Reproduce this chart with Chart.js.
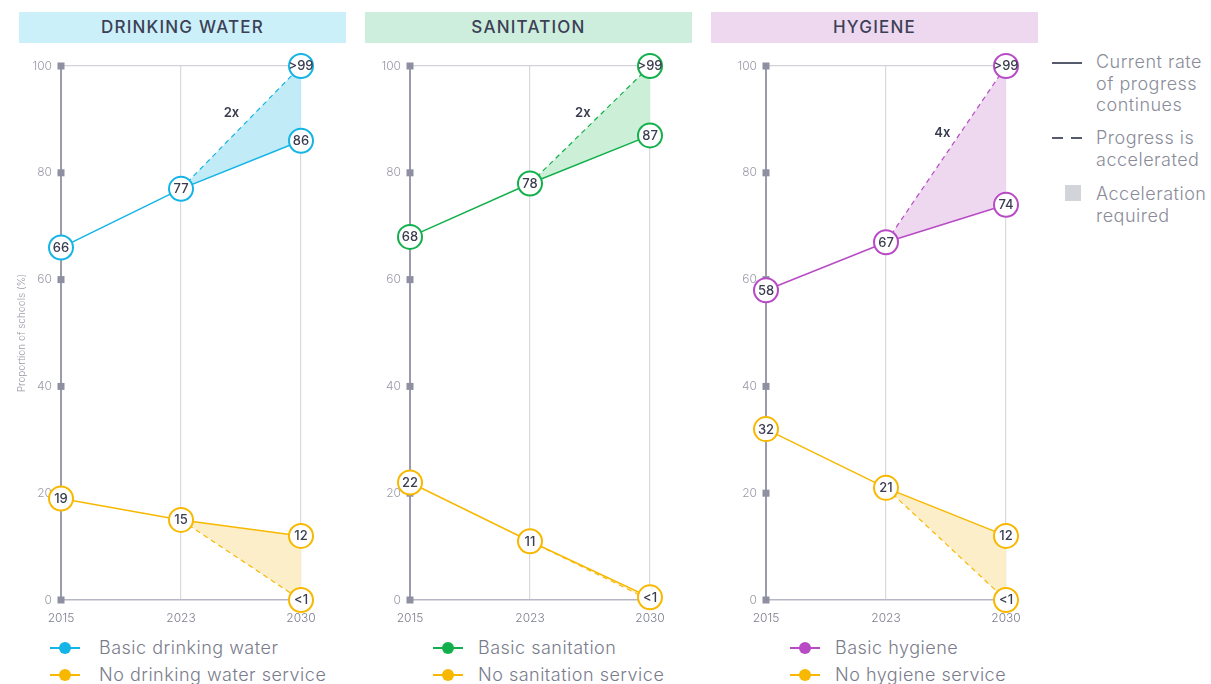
<!DOCTYPE html>
<html>
<head>
<meta charset="utf-8">
<script src="https://cdn.jsdelivr.net/npm/chart.js@4.4.1/dist/chart.umd.min.js"></script>
<style>
  body { margin: 0; width: 1211px; height: 684px; overflow: hidden; background: #fff; font-family: Inter, "Noto Sans", sans-serif; position: relative; }
  .head { position: absolute; top: 12px; width: 327px; height: 31px; line-height: 31px; text-align: center; font-size: 17px; font-weight: 500; letter-spacing: 1.2px; color: #3c4056; }
  .cv { position: absolute; top: 46px; }
  .leg { position: absolute; font-size: 18px; font-weight: 300; letter-spacing: 0.5px; color: #7a7c8b; }
  .leg .row { position: relative; height: 27px; line-height: 27px; white-space: nowrap; }
  .leg .mk { position: absolute; left: 0; top: 12px; width: 30px; height: 2px; }
  .leg .mk::after { content: ""; position: absolute; left: 9px; top: -5px; width: 12px; height: 12px; border-radius: 50%; background: inherit; }
  .leg .tx { position: absolute; left: 45px; top: -1px; }
  .key { position: absolute; left: 1052px; font-size: 18px; font-weight: 300; letter-spacing: 0.5px; color: #8a8c99; line-height: 21.5px; }
  .key div { position: absolute; white-space: nowrap; }
</style>
</head>
<body>
<div class="head" style="left:19px;background:#ccf0f9">DRINKING WATER</div>
<div class="head" style="left:365px;background:#cdeedc">SANITATION</div>
<div class="head" style="left:711px;background:#eed8f0">HYGIENE</div>

<canvas id="c1" class="cv" style="left:16px" width="325" height="584"></canvas>
<canvas id="c2" class="cv" style="left:365px" width="325" height="584"></canvas>
<canvas id="c3" class="cv" style="left:721px" width="325" height="584"></canvas>

<div class="leg" style="left:50px;top:635px">
  <div class="row"><span class="mk" style="background:#14b4e6"></span><span class="tx" style="left:49px">Basic drinking water</span></div>
  <div class="row"><span class="mk" style="background:#f8b800"></span><span class="tx" style="left:49px">No drinking water service</span></div>
</div>
<div class="leg" style="left:433px;top:635px">
  <div class="row"><span class="mk" style="background:#12b04c"></span><span class="tx">Basic sanitation</span></div>
  <div class="row"><span class="mk" style="background:#f8b800"></span><span class="tx">No sanitation service</span></div>
</div>
<div class="leg" style="left:790px;top:635px">
  <div class="row"><span class="mk" style="background:#b84ac6"></span><span class="tx">Basic hygiene</span></div>
  <div class="row"><span class="mk" style="background:#f8b800"></span><span class="tx">No hygiene service</span></div>
</div>

<div class="key" style="top:0">
  <div style="left:0;top:62px;width:30px;height:2px;background:#555a6c"></div>
  <div style="left:44px;top:51px">Current rate<br>of progress<br>continues</div>
  <div style="left:0;top:137px;width:11px;height:2px;background:#555a6c"></div>
  <div style="left:19px;top:137px;width:11px;height:2px;background:#555a6c"></div>
  <div style="left:44px;top:127px">Progress is<br>accelerated</div>
  <div style="left:13px;top:185px;width:16px;height:16px;background:#d3d4da"></div>
  <div style="left:44px;top:183px">Acceleration<br>required</div>
</div>

<script>
const years = ['2015', '2023', '2030'];
const yTicks = [0, 20, 40, 60, 80, 100];

// drinking water
const waterBasic = [66, 77, 86];
const waterBasicAcc = [null, 77, 100];
const waterNone = [19, 15, 12];
const waterNoneAcc = [null, 15, 0];
const waterBasicLabels = ['66', '77', '86'];
const waterBasicAccLabels = ['', '', '>99'];
const waterNoneLabels = ['19', '15', '12'];
const waterNoneAccLabels = ['', '', '<1'];

// sanitation
const sanBasic = [68, 78, 87];
const sanBasicAcc = [null, 78, 100];
const sanNone = [22, 11, 0.5];
const sanNoneAcc = [null, 11, 0];
const sanBasicLabels = ['68', '78', '87'];
const sanBasicAccLabels = ['', '', '>99'];
const sanNoneLabels = ['22', '11', '<1'];
const sanNoneAccLabels = ['', '', ''];

// hygiene
const hygBasic = [58, 67, 74];
const hygBasicAcc = [null, 67, 100];
const hygNone = [32, 21, 12];
const hygNoneAcc = [null, 21, 0];
const hygBasicLabels = ['58', '67', '74'];
const hygBasicAccLabels = ['', '', '>99'];
const hygNoneLabels = ['32', '21', '12'];
const hygNoneAccLabels = ['', '', '<1'];

const orange = '#f8b800', orangeFill = 'rgba(253,236,196,0.9)';
const axisColor = '#9a9bab';

Chart.defaults.font.family = 'Inter, "Noto Sans", sans-serif';

function ds(vals, labs, color, dashed, fillColor) {
    return {
        data: vals,
        labs: labs,
        borderColor: color,
        borderWidth: dashed ? 1.2 : 1.5,
        borderDash: dashed ? [5, 4] : [],
        pointRadius: labs.map(l => l ? 12 : 0),
        pointHoverRadius: labs.map(l => l ? 12 : 0),
        pointBackgroundColor: '#fff',
        pointBorderColor: color,
        pointBorderWidth: 2,
        fill: fillColor ? '-1' : false,
        backgroundColor: fillColor || 'transparent',
        tension: 0,
        clip: false
    };
}

// small squares on the y axis + labels in circles + "2x" notes
const marks = {
    id: 'marks',
    beforeDatasetsDraw(chart) {
        const c = chart.ctx, y = chart.scales.y, x0 = chart.scales.x.getPixelForValue(0);
        c.save();
        c.fillStyle = '#8e8fa0';
        yTicks.forEach(v => {
            const py = y.getPixelForValue(v);
            c.fillRect(x0 - 3.5, py - 3.5, 7, 7);
        });
        c.restore();
    },
    afterDatasetsDraw(chart, args, opts) {
        const c = chart.ctx;
        c.save();
        c.fillStyle = '#3a3d50';
        c.textAlign = 'center';
        c.textBaseline = 'middle';
        c.font = '500 13px Inter, "Noto Sans", sans-serif';
        chart.data.datasets.forEach((d, di) => {
            const meta = chart.getDatasetMeta(di);
            d.labs.forEach((l, i) => {
                if (!l) return;
                const el = meta.data[i];
                c.fillText(l, el.x, el.y + 0.5);
            });
        });
        if (opts.note) {
            c.font = '600 13px Inter, "Noto Sans", sans-serif';
            c.fillText(opts.note.text, chart.scales.x.getPixelForValue(opts.note.x), chart.scales.y.getPixelForValue(opts.note.y));
        }
        c.restore();
    }
};

function makeChart(id, basic, basicAcc, none, noneAcc, labs, color, fillColor, note, showTitle) {
    return new Chart(document.getElementById(id), {
        type: 'line',
        data: {
            labels: years,
            datasets: [
                ds(basic, labs[0], color, false),
                ds(basicAcc, labs[1], color, true, fillColor),
                ds(none, labs[2], orange, false),
                ds(noneAcc, labs[3], orange, true, orangeFill)
            ]
        },
        options: {
            responsive: false,
            animation: false,
            events: [],
            layout: { padding: { top: 20, right: 40, left: 0, bottom: 0 } },
            plugins: { legend: { display: false }, tooltip: { enabled: false }, marks: { note: note } },
            scales: {
                x: {
                    type: 'category', offset: false,
                    afterFit: s => { s.height = 30; },
                    ticks: { color: '#7b7d8c', font: { size: 12, weight: 300 }, padding: 11 },
                    grid: {
                        drawTicks: false,
                        color: c => c.index === 0 ? axisColor : '#d9d9de',
                        lineWidth: c => c.index === 0 ? 2 : 1.2
                    },
                    border: { display: false }
                },
                y: {
                    min: 0, max: 100,
                    afterBuildTicks: s => { s.ticks = yTicks.map(v => ({ value: v })); },
                    afterFit: s => { s.width = 45; },
                    ticks: { color: '#9a9aa8', font: { size: 12, weight: 300 }, padding: 9 },
                    grid: {
                        drawTicks: false,
                        color: c => c.tick.value === 100 ? '#d2d2d8' : (c.tick.value === 0 ? '#b6b7c4' : 'transparent'),
                        lineWidth: c => c.tick.value === 0 ? 1.5 : 1.2
                    },
                    border: { display: false },
                    title: { display: showTitle, text: 'Proportion of schools (%)', color: '#9a9aa8', font: { size: 10, weight: 300 }, padding: { top: 0, bottom: 0 } }
                }
            }
        },
        plugins: [marks]
    });
}

makeChart('c1', waterBasic, waterBasicAcc, waterNone, waterNoneAcc,
    [waterBasicLabels, waterBasicAccLabels, waterNoneLabels, waterNoneAccLabels],
    '#14b4e6', 'rgba(190,234,247,0.95)', { text: '2x', x: 1.42, y: 91.2 }, true);
makeChart('c2', sanBasic, sanBasicAcc, sanNone, sanNoneAcc,
    [sanBasicLabels, sanBasicAccLabels, sanNoneLabels, sanNoneAccLabels],
    '#12b04c', 'rgba(200,238,213,0.95)', { text: '2x', x: 1.44, y: 91.2 }, false);
makeChart('c3', hygBasic, hygBasicAcc, hygNone, hygNoneAcc,
    [hygBasicLabels, hygBasicAccLabels, hygNoneLabels, hygNoneAccLabels],
    '#b84ac6', 'rgba(237,214,239,0.95)', { text: '4x', x: 1.47, y: 87.5 }, false);
</script>
</body>
</html>
